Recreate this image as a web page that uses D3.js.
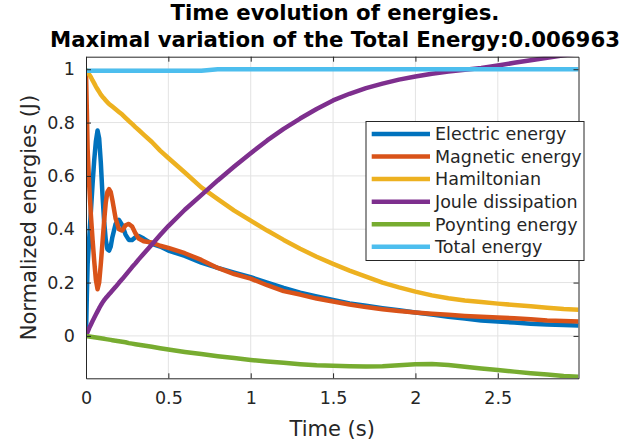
<!DOCTYPE html>
<html>
<head>
<meta charset="utf-8">
<script src="https://cdn.jsdelivr.net/npm/d3@7"></script>
<style>
  html, body { margin: 0; padding: 0; background: #ffffff; }
  svg { display: block; font-family: "DejaVu Sans", sans-serif; }
</style>
</head>
<body>
<svg id="chart" width="643" height="443"></svg>
<script>
// ---------------- data ----------------
const titleLines = ["Time evolution of energies.", "Maximal variation of the Total Energy:0.006963"];
const xLabel = "Time (s)";
const yLabel = "Normalized energies (J)";
const xTicks = [0, 0.5, 1, 1.5, 2, 2.5];
const yTicks = [0, 0.2, 0.4, 0.6, 0.8, 1];
const seriesNames = ["Electric energy", "Magnetic energy", "Hamiltonian", "Joule dissipation", "Poynting energy", "Total energy"];

const time = [0, 0.005, 0.01, 0.02, 0.03, 0.04, 0.05, 0.06, 0.07, 0.08, 0.09, 0.10, 0.11, 0.12, 0.13, 0.14, 0.15, 0.16,
  0.18, 0.20, 0.22, 0.24, 0.26, 0.28, 0.30, 0.32, 0.35, 0.40, 0.45, 0.50,
  0.6, 0.7, 0.8, 0.9, 1.0, 1.1, 1.2, 1.3, 1.4, 1.5, 1.6, 1.7, 1.8, 1.9, 2.0, 2.1, 2.2, 2.3, 2.4, 2.5, 2.6, 2.7, 2.8, 2.9, 2.99];

const electric = [0, 0.15, 0.27, 0.37, 0.47, 0.57, 0.66, 0.73, 0.77, 0.74, 0.65, 0.53, 0.43, 0.36, 0.325, 0.32, 0.335, 0.37,
  0.42, 0.435, 0.415, 0.38, 0.36, 0.36, 0.37, 0.375, 0.365, 0.345, 0.335, 0.32,
  0.30, 0.275, 0.255, 0.237, 0.22, 0.20, 0.18, 0.162, 0.148, 0.135, 0.122, 0.113, 0.104, 0.096, 0.088, 0.080, 0.072, 0.065, 0.058, 0.054, 0.050, 0.046, 0.043, 0.041, 0.039];

const magnetic = [0.99, 0.85, 0.70, 0.56, 0.45, 0.36, 0.28, 0.21, 0.175, 0.20, 0.27, 0.35, 0.43, 0.50, 0.54, 0.55, 0.54, 0.51,
  0.44, 0.40, 0.395, 0.415, 0.42, 0.41, 0.385, 0.365, 0.355, 0.35, 0.338, 0.33,
  0.31, 0.285, 0.255, 0.232, 0.215, 0.19, 0.168, 0.155, 0.14, 0.129, 0.118, 0.108, 0.10, 0.093, 0.088, 0.083, 0.079, 0.075, 0.072, 0.069, 0.066, 0.062, 0.058, 0.056, 0.054];

const hamiltonian = [1.0, 0.995, 0.99, 0.98, 0.97, 0.958, 0.947, 0.935, 0.925, 0.915, 0.905, 0.897, 0.89, 0.883, 0.876, 0.87, 0.865, 0.86,
  0.85, 0.84, 0.83, 0.818, 0.806, 0.795, 0.783, 0.772, 0.755, 0.727, 0.695, 0.667,
  0.613, 0.557, 0.513, 0.47, 0.432, 0.395, 0.36, 0.327, 0.297, 0.27, 0.245, 0.222, 0.20, 0.182, 0.166, 0.152, 0.141, 0.133, 0.127, 0.121, 0.116, 0.111, 0.106, 0.101, 0.098];

const joule = [0, 0.008, 0.015, 0.03, 0.043, 0.056, 0.068, 0.08, 0.092, 0.104, 0.115, 0.125, 0.134, 0.142, 0.149, 0.156, 0.163, 0.17,
  0.184, 0.199, 0.213, 0.228, 0.243, 0.258, 0.272, 0.287, 0.308, 0.343, 0.378, 0.412,
  0.473, 0.528, 0.583, 0.635, 0.685, 0.733, 0.776, 0.815, 0.851, 0.883, 0.908, 0.929, 0.946, 0.961, 0.973, 0.983, 0.991, 0.998, 1.005, 1.014, 1.024, 1.034, 1.043, 1.052, 1.06];

const poynting = [0, -0.001, -0.001, -0.002, -0.003, -0.004, -0.005, -0.006, -0.007, -0.008, -0.009, -0.010, -0.011, -0.012, -0.013, -0.014, -0.015, -0.016,
  -0.018, -0.020, -0.022, -0.024, -0.027, -0.029, -0.031, -0.033, -0.036, -0.041, -0.046, -0.051,
  -0.060, -0.068, -0.076, -0.083, -0.090, -0.096, -0.101, -0.106, -0.110, -0.112, -0.114, -0.115, -0.114, -0.110, -0.106, -0.105, -0.109, -0.116, -0.122, -0.128, -0.134, -0.140, -0.145, -0.150, -0.153];

const total = [0.994, 0.994, 0.994, 0.994, 0.994, 0.994, 0.994, 0.994, 0.994, 0.994, 0.994, 0.994, 0.994, 0.994, 0.994, 0.994, 0.994, 0.994,
  0.994, 0.994, 0.994, 0.994, 0.994, 0.994, 0.994, 0.994, 0.994, 0.994, 0.994, 0.994,
  0.994, 0.994, 1.0, 1.0, 1.0, 1.0, 1.0, 1.0, 1.0, 1.0, 1.0, 1.0, 1.0, 1.0, 1.0, 1.0, 1.0, 1.0, 1.0, 1.0, 1.0, 1.0, 1.0, 1.0, 1.0];

const seriesColors = ["#0072BD", "#D95319", "#EDB120", "#7E2F8E", "#77AC30", "#4DBEEE"];
const seriesValues = [electric, magnetic, hamiltonian, joule, poynting, total];

// ---------------- layout ----------------
const svg = d3.select("#chart");
const pL = 86, pR = 578.5, pT = 56.7, pB = 378.3;
const axisColor = "#262626";

const x = d3.scaleLinear().domain([0, 2.99]).range([pL, pR]);
const y = d3.scaleLinear().domain([-0.159, 1.047]).range([pB, pT]);

svg.append("rect").attr("x", pL).attr("y", pT).attr("width", pR - pL).attr("height", pB - pT).attr("fill", "#fff");

// grid
const grid = svg.append("g").attr("stroke", "#e3e3e3").attr("stroke-width", 1);
xTicks.filter(t => t > 0).forEach(t => {
  grid.append("line").attr("x1", x(t)).attr("x2", x(t)).attr("y1", pT).attr("y2", pB);
});
yTicks.forEach(t => {
  grid.append("line").attr("x1", pL).attr("x2", pR).attr("y1", y(t)).attr("y2", y(t));
});

// clip
svg.append("defs").append("clipPath").attr("id", "plotclip")
  .append("rect").attr("x", pL).attr("y", pT).attr("width", pR - pL).attr("height", pB - pT);

const lineGen = d3.line().x(d => x(d[0])).y(d => y(d[1]));
const linesG = svg.append("g").attr("clip-path", "url(#plotclip)");
seriesValues.forEach((vals, i) => {
  const pts = time.map((t, j) => [t, vals[j]]);
  linesG.append("path").datum(pts)
    .attr("d", lineGen)
    .attr("fill", "none")
    .attr("stroke", seriesColors[i])
    .attr("stroke-width", 4.5)
    .attr("stroke-linejoin", "round");
});

// axes
const fmt = d => String(d);
const fontTick = 17.5;
const gx = svg.append("g").attr("transform", `translate(0,${pB})`)
  .call(d3.axisBottom(x).tickValues(xTicks).tickFormat(fmt).tickSizeInner(-5).tickSizeOuter(0).tickPadding(13));
const gy = svg.append("g").attr("transform", `translate(${pL},0)`)
  .call(d3.axisLeft(y).tickValues(yTicks).tickFormat(fmt).tickSizeInner(-5).tickSizeOuter(0).tickPadding(11));
const gt = svg.append("g").attr("transform", `translate(0,${pT})`)
  .call(d3.axisTop(x).tickValues(xTicks).tickFormat("").tickSizeInner(-5).tickSizeOuter(0));
const gr = svg.append("g").attr("transform", `translate(${pR},0)`)
  .call(d3.axisRight(y).tickValues(yTicks).tickFormat("").tickSizeInner(-5).tickSizeOuter(0));
[gx, gy, gt, gr].forEach(g => {
  g.selectAll("path").attr("stroke", axisColor).attr("stroke-width", 1);
  g.selectAll("line").attr("stroke", axisColor).attr("stroke-width", 1);
  g.selectAll("text").attr("fill", axisColor).style("font-size", fontTick + "px").style("font-family", "DejaVu Sans");
});

// axis labels
svg.append("text").attr("x", (pL + pR) / 2).attr("y", 436)
  .attr("text-anchor", "middle").attr("fill", axisColor)
  .style("font-size", "21px").text(xLabel);
svg.append("text").attr("transform", `translate(36,${(pT + pB) / 2}) rotate(-90)`)
  .attr("text-anchor", "middle").attr("fill", axisColor)
  .style("font-size", "21px").text(yLabel);

// title
const titleG = svg.append("g");
const tY = [20, 46.5];
titleLines.forEach((s, i) => {
  titleG.append("text").attr("x", 335).attr("y", tY[i]).attr("text-anchor", "middle")
    .attr("fill", "#000").style("font-weight", "bold").style("font-size", "21px").text(s);
});
const t2 = titleG.selectAll("text").nodes()[1];
const w2 = t2.getComputedTextLength();
const fsTitle = 21 * 570 / w2;
titleG.selectAll("text").style("font-size", fsTitle.toFixed(2) + "px");

// legend
const lg = svg.append("g");
lg.append("rect").attr("x", 366).attr("y", 121.5).attr("width", 218).attr("height", 139)
  .attr("fill", "#fff").attr("stroke", axisColor).attr("stroke-width", 1);
seriesNames.forEach((name, i) => {
  const cy = 134 + i * 22.55;
  lg.append("line").attr("x1", 371.7).attr("x2", 430).attr("y1", cy).attr("y2", cy)
    .attr("stroke", seriesColors[i]).attr("stroke-width", 4.5);
  lg.append("text").attr("x", 435).attr("y", cy).attr("dy", "0.36em")
    .attr("fill", axisColor).style("font-size", fontTick + "px").text(name);
});
</script>
</body>
</html>
